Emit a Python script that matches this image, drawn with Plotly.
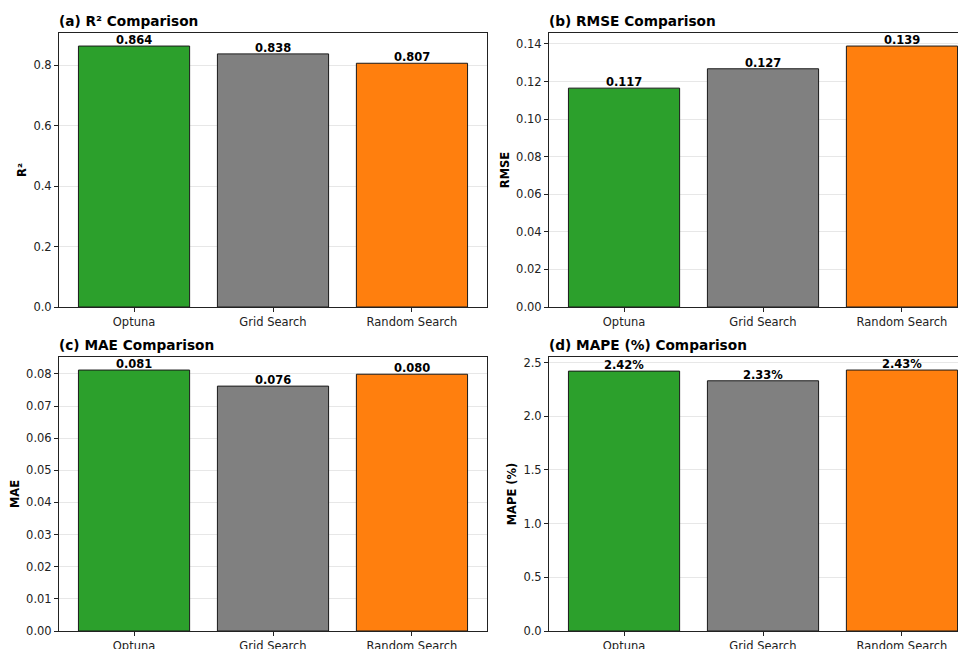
import plotly.graph_objects as go

methods = ["Optuna", "Grid Search", "Random Search"]
colors = ["#2ca02c", "#808080", "#ff7f0e"]

r2_values = [0.864, 0.838, 0.807]
rmse_values = [0.1165, 0.1268, 0.1389]
mae_values = [0.0812, 0.0762, 0.0799]
mape_values = [2.42, 2.33, 2.43]

r2_labels = ["0.864", "0.838", "0.807"]
rmse_labels = ["0.117", "0.127", "0.139"]
mae_labels = ["0.081", "0.076", "0.080"]
mape_labels = ["2.42%", "2.33%", "2.43%"]

titles = ["(a) R² Comparison", "(b) RMSE Comparison", "(c) MAE Comparison", "(d) MAPE (%) Comparison"]
ytitles = ["R²", "RMSE", "MAE", "MAPE (%)"]

OFF = 8  # page body margin
W, H = 966 - OFF, 649 - OFF  # figure size that fits the window
FONT = "DejaVu Sans"

panels = [
    dict(vals=r2_values, labels=r2_labels, dtick=0.2, fmt=".1f", x=(59, 487), y=(33, 307), right=False),
    dict(vals=rmse_values, labels=rmse_labels, dtick=0.02, fmt=".2f", x=(549, 977), y=(33, 307), right=True),
    dict(vals=mae_values, labels=mae_labels, dtick=0.01, fmt=".2f", x=(59, 487), y=(357, 631), right=False),
    dict(vals=mape_values, labels=mape_labels, dtick=0.5, fmt=".1f", x=(549, 977), y=(357, 631), right=True),
]

fig = go.Figure()
annotations = []
layout = {}
px_per_unit = (487 - 59) / 3.08

for i, p in enumerate(panels):
    n = "" if i == 0 else str(i + 1)
    xa, ya = "x" + n, "y" + n
    fig.add_trace(go.Bar(
        x=methods, y=p["vals"], width=0.8,
        marker=dict(color=colors, line=dict(color="#1a1a1a", width=1)),
        xaxis=xa, yaxis=ya, showlegend=False, hoverinfo="x+y",
    ))
    x0, x1 = p["x"][0] - OFF, p["x"][1] - OFF
    y0, y1 = p["y"][0] - OFF, p["y"][1] - OFF
    x1_clip = min(x1, W)
    xr_end = -0.54 + (x1_clip - x0) / px_per_unit
    ymax = max(p["vals"]) * 1.05
    layout["xaxis" + n] = dict(
        domain=[x0 / W, x1_clip / W], anchor=ya, range=[-0.54, xr_end],
        showline=True, linecolor="#222", linewidth=1, mirror=True,
        ticks="outside", ticklen=4, tickcolor="#222",
        tickfont=dict(family=FONT, size=11.5, color="#222"),
        showgrid=False, zeroline=False, fixedrange=True, automargin=False,
    )
    layout["yaxis" + n] = dict(
        domain=[1 - y1 / H, 1 - y0 / H], anchor=xa, range=[0, ymax],
        dtick=p["dtick"], tick0=0, tickformat=p["fmt"],
        showline=True, linecolor="#222", linewidth=1, mirror=(not p["right"]),
        ticks="outside", ticklen=4, tickcolor="#222",
        tickfont=dict(family=FONT, size=11.5, color="#222"),
        showgrid=True, gridcolor="rgba(176,176,176,0.3)", gridwidth=1,
        zeroline=False, layer="above traces", fixedrange=True, automargin=False,
        title=dict(text="<b>" + ytitles[i] + "</b>", font=dict(family=FONT, size=11.5, color="#000"), standoff=4),
    )
    for m, v, lab in zip(methods, p["vals"], p["labels"]):
        annotations.append(dict(
            x=m, y=v, xref=xa, yref=ya, text="<b>" + lab + "</b>", showarrow=False,
            yanchor="bottom", xanchor="center", yshift=-3,
            font=dict(family=FONT, size=11.5, color="#000"),
        ))
    annotations.append(dict(
        x=x0 / W, y=1 - (y0 - 3) / H, xref="paper", yref="paper",
        text="<b>" + titles[i] + "</b>", showarrow=False, xanchor="left", yanchor="bottom",
        xshift=-2, yshift=-1, font=dict(family=FONT, size=13.7, color="#000"),
    ))

fig.update_layout(
    width=W, height=H, margin=dict(l=0, r=0, t=0, b=0, autoexpand=False),
    paper_bgcolor="white", plot_bgcolor="white",
    annotations=annotations, bargap=0.2, **layout,
)
fig.write_html("out.html")
